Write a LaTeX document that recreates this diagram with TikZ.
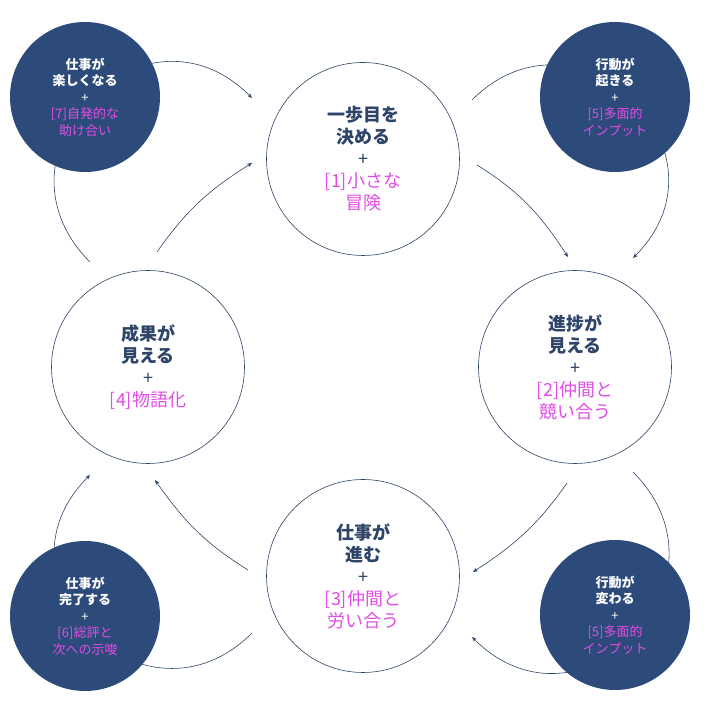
\documentclass[tikz,border=0pt]{standalone}
\usepackage{fontspec}
\setmainfont{Noto Sans CJK JP}
\usetikzlibrary{arrows.meta}

\definecolor{navy}{HTML}{2E4468}
\definecolor{darkfill}{HTML}{2C4A7A}
\definecolor{pinktext}{HTML}{E24DE6}

\newcommand{\hd}[1]{\textbf{#1}}
\newcommand{\pk}[1]{\textcolor{pinktext}{#1}}

\begin{document}
\begin{tikzpicture}[x=1pt, y=1pt,
    bigstep/.style={circle, draw=navy, line width=0.6pt, fill=white, minimum size=193pt, inner sep=0pt,
        align=center, text=navy, font=\fontsize{18}{22}\selectfont},
    darkstep/.style={circle, fill=darkfill, minimum size=150pt, inner sep=0pt,
        align=center, text=white, font=\fontsize{13}{16.5}\selectfont},
    flow/.style={draw=navy, line width=0.6pt, -{Stealth[length=5pt,width=4pt]}}]
    \useasboundingbox (0,0) rectangle (720,720);

    % the four steps
    \node[bigstep] (ippo)    at (363,561) {\hd{一歩目を}\\\hd{決める}\\+\\\pk{[1]小さな}\\\pk{冒険}};
    \node[bigstep] (shincho) at (575,353) {\hd{進捗が}\\\hd{見える}\\+\\\pk{[2]仲間と}\\\pk{競い合う}};
    \node[bigstep] (susumu)  at (363,144) {\hd{仕事が}\\\hd{進む}\\+\\\pk{[3]仲間と}\\\pk{労い合う}};
    \node[bigstep] (seika)   at (148,353) {\hd{成果が}\\\hd{見える}\\+\\\pk{[4]物語化}};

    % long way round, under the corner circles
    \draw[flow] ([shift={(-58,105)}]seika.center) to[out=135, in=135, looseness=1.7] ([shift={(-111,61)}]ippo.center);
    \draw[flow] ([shift={(109,59)}]ippo.center) to[out=45, in=45, looseness=1.7] ([shift={(58,109)}]shincho.center);
    \draw[flow] ([shift={(58,-105)}]shincho.center) to[out=-45, in=-45, looseness=1.7] ([shift={(109,-61)}]susumu.center);
    \draw[flow] ([shift={(-111,-57)}]susumu.center) to[out=-135, in=-135, looseness=1.7] ([shift={(-58,-108)}]seika.center);

    % short way round
    \draw[flow] ([shift={(9,115)}]seika.center) to[out=55, in=212] ([shift={(-111,-4)}]ippo.center);
    \draw[flow] ([shift={(114,-6)}]ippo.center) to[out=-32, in=123] ([shift={(-7,110)}]shincho.center);
    \draw[flow] ([shift={(-8,-116)}]shincho.center) to[out=-125, in=33] ([shift={(110,4)}]susumu.center);
    \draw[flow] ([shift={(-115,6)}]susumu.center) to[out=148, in=-55] ([shift={(7,-113)}]seika.center);

    % corner circles
    \node[darkstep] (tanoshii) at (85,623) {\hd{仕事が}\\\hd{楽しくなる}\\+\\\pk{[7]自発的な}\\\pk{助け合い}};
    \node[darkstep] (okiru)    at (615,623) {\hd{行動が}\\\hd{起きる}\\+\\\pk{[5]多面的}\\\pk{インプット}};
    \node[darkstep] (kanryo)   at (85,104) {\hd{仕事が}\\\hd{完了する}\\+\\\pk{[6]総評と}\\\pk{次への示唆}};
    \node[darkstep] (kawaru)   at (615,105) {\hd{行動が}\\\hd{変わる}\\+\\\pk{[5]多面的}\\\pk{インプット}};
\end{tikzpicture}
\end{document}
